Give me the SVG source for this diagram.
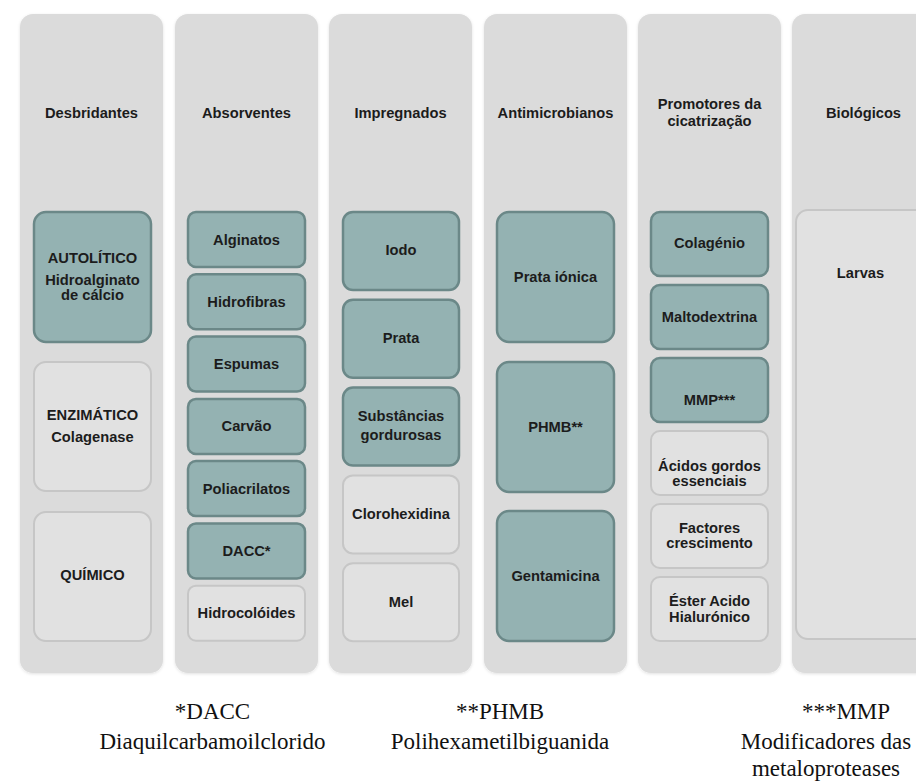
<svg xmlns="http://www.w3.org/2000/svg" width="916" height="784" viewBox="0 0 916 784">
  <style>
    .panel { fill: #dbdbdb; }
    .dark { fill: #94b2b2; stroke: #6b8888; stroke-width: 2.5; }
    .light { fill: #e1e1e1; stroke: #c6c6c6; stroke-width: 2; }
    .t { font-family: "Liberation Sans", Arial, sans-serif; font-weight: bold; font-size: 14.7px; fill: #1c1c1c; text-anchor: middle; }
    .fn { font-family: "Liberation Serif", "Times New Roman", serif; font-size: 23px; fill: #111; text-anchor: middle; }
  </style>
  <defs>
    <filter id="sh" x="-10%" y="-10%" width="120%" height="120%">
      <feDropShadow dx="0" dy="1" stdDeviation="1.5" flood-color="#000" flood-opacity="0.12"/>
    </filter>
  </defs>
  <rect width="916" height="784" fill="#ffffff"/>

  <!-- Column panels -->
  <g id="col-desbridantes">
    <rect class="panel" x="20" y="14" width="143" height="659" rx="13" filter="url(#sh)"/>
    <text class="t" x="91.5" y="118">Desbridantes</text>
  </g>
  <g id="col-absorventes">
    <rect class="panel" x="175" y="14" width="143" height="659" rx="13" filter="url(#sh)"/>
    <text class="t" x="246.5" y="118">Absorventes</text>
  </g>
  <g id="col-impregnados">
    <rect class="panel" x="329" y="14" width="143" height="659" rx="13" filter="url(#sh)"/>
    <text class="t" x="400.5" y="118">Impregnados</text>
  </g>
  <g id="col-antimicrobianos">
    <rect class="panel" x="484" y="14" width="143" height="659" rx="13" filter="url(#sh)"/>
    <text class="t" x="555.5" y="118">Antimicrobianos</text>
  </g>
  <g id="col-promotores">
    <rect class="panel" x="638" y="14" width="143" height="659" rx="13" filter="url(#sh)"/>
    <text class="t" x="709.5" y="109">Promotores da</text>
    <text class="t" x="709.5" y="125.5">cicatrização</text>
  </g>
  <g id="col-biologicos">
    <rect class="panel" x="792" y="14" width="143" height="659" rx="13" filter="url(#sh)"/>
    <text class="t" x="863.5" y="118">Biológicos</text>
  </g>

  <!-- Desbridantes -->
  <g id="autolitico">
    <rect class="dark" x="34" y="212" width="117" height="130" rx="12"/>
    <text class="t" x="92.5" y="263">AUTOLÍTICO</text>
    <text class="t" x="92.5" y="285">Hidroalginato</text>
    <text class="t" x="92.5" y="300">de cálcio</text>
  </g>
  <g id="enzimatico">
    <rect class="light" x="34" y="362" width="117" height="129" rx="12"/>
    <text class="t" x="92.5" y="420">ENZIMÁTICO</text>
    <text class="t" x="92.5" y="442">Colagenase</text>
  </g>
  <g id="quimico">
    <rect class="light" x="34" y="512" width="117" height="129" rx="12"/>
    <text class="t" x="92.5" y="580">QUÍMICO</text>
  </g>

  <!-- Absorventes -->
  <g id="alginatos">
    <rect class="dark" x="188" y="212" width="117" height="55" rx="8"/>
    <text class="t" x="246.5" y="244.5">Alginatos</text>
  </g>
  <g id="hidrofibras">
    <rect class="dark" x="188" y="274.3" width="117" height="55" rx="8"/>
    <text class="t" x="246.5" y="306.8">Hidrofibras</text>
  </g>
  <g id="espumas">
    <rect class="dark" x="188" y="336.6" width="117" height="55" rx="8"/>
    <text class="t" x="246.5" y="369.1">Espumas</text>
  </g>
  <g id="carvao">
    <rect class="dark" x="188" y="398.9" width="117" height="55" rx="8"/>
    <text class="t" x="246.5" y="431.4">Carvão</text>
  </g>
  <g id="poliacrilatos">
    <rect class="dark" x="188" y="461.1" width="117" height="55" rx="8"/>
    <text class="t" x="246.5" y="493.6">Poliacrilatos</text>
  </g>
  <g id="dacc">
    <rect class="dark" x="188" y="523.4" width="117" height="55" rx="8"/>
    <text class="t" x="246.5" y="555.9">DACC*</text>
  </g>
  <g id="hidrocoloides">
    <rect class="light" x="188" y="585.7" width="117" height="55" rx="8"/>
    <text class="t" x="246.5" y="618.2">Hidrocolóides</text>
  </g>

  <!-- Impregnados -->
  <g id="iodo">
    <rect class="dark" x="343" y="212" width="116" height="78" rx="10"/>
    <text class="t" x="401" y="255">Iodo</text>
  </g>
  <g id="prata">
    <rect class="dark" x="343" y="299.8" width="116" height="78" rx="10"/>
    <text class="t" x="401" y="343">Prata</text>
  </g>
  <g id="substancias">
    <rect class="dark" x="343" y="387.6" width="116" height="78" rx="10"/>
    <text class="t" x="401" y="421">Substâncias</text>
    <text class="t" x="401" y="440">gordurosas</text>
  </g>
  <g id="clorohexidina">
    <rect class="light" x="343" y="475.4" width="116" height="78" rx="10"/>
    <text class="t" x="401" y="519">Clorohexidina</text>
  </g>
  <g id="mel">
    <rect class="light" x="343" y="563.2" width="116" height="78" rx="10"/>
    <text class="t" x="401" y="607">Mel</text>
  </g>

  <!-- Antimicrobianos -->
  <g id="prata-ionica">
    <rect class="dark" x="497" y="212" width="117" height="130" rx="12"/>
    <text class="t" x="555.5" y="282">Prata iónica</text>
  </g>
  <g id="phmb">
    <rect class="dark" x="497" y="362" width="117" height="130" rx="12"/>
    <text class="t" x="555.5" y="432">PHMB**</text>
  </g>
  <g id="gentamicina">
    <rect class="dark" x="497" y="511" width="117" height="130" rx="12"/>
    <text class="t" x="555.5" y="581">Gentamicina</text>
  </g>

  <!-- Promotores da cicatrização -->
  <g id="colagenio">
    <rect class="dark" x="651" y="212" width="117" height="64" rx="9"/>
    <text class="t" x="709.5" y="248">Colagénio</text>
  </g>
  <g id="maltodextrina">
    <rect class="dark" x="651" y="285" width="117" height="64" rx="9"/>
    <text class="t" x="709.5" y="322">Maltodextrina</text>
  </g>
  <g id="mmp">
    <rect class="dark" x="651" y="358" width="117" height="64" rx="9"/>
    <text class="t" x="709.5" y="405">MMP***</text>
  </g>
  <g id="acidos-gordos">
    <rect class="light" x="651" y="431" width="117" height="64" rx="9"/>
    <text class="t" x="709.5" y="471">Ácidos gordos</text>
    <text class="t" x="709.5" y="486">essenciais</text>
  </g>
  <g id="factores">
    <rect class="light" x="651" y="504" width="117" height="64" rx="9"/>
    <text class="t" x="709.5" y="533">Factores</text>
    <text class="t" x="709.5" y="548">crescimento</text>
  </g>
  <g id="ester">
    <rect class="light" x="651" y="577" width="117" height="64" rx="9"/>
    <text class="t" x="709.5" y="606">Éster Acido</text>
    <text class="t" x="709.5" y="622">Hialurónico</text>
  </g>

  <!-- Biológicos -->
  <g id="larvas">
    <rect class="light" x="796" y="210" width="140" height="429" rx="12"/>
    <text class="t" x="860.5" y="278">Larvas</text>
  </g>

  <!-- Footnotes -->
  <g id="footnotes">
    <text class="fn" x="212.5" y="719">*DACC</text>
    <text class="fn" x="212.5" y="749">Diaquilcarbamoilclorido</text>
    <text class="fn" x="500" y="719">**PHMB</text>
    <text class="fn" x="500" y="749">Polihexametilbiguanida</text>
    <text class="fn" x="846" y="719">***MMP</text>
    <text class="fn" x="826" y="749">Modificadores das</text>
    <text class="fn" x="826" y="776">metaloproteases</text>
  </g>
</svg>
